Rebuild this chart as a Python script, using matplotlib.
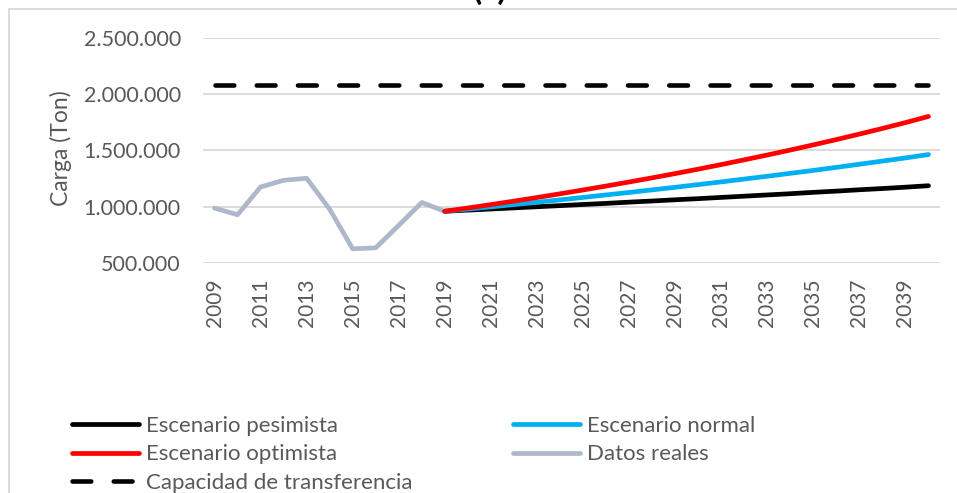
#!/usr/bin/env python3
import matplotlib
matplotlib.use("Agg")
import matplotlib.pyplot as plt
from matplotlib.patches import Rectangle
from matplotlib.ticker import FuncFormatter, MultipleLocator

# data
YEARS_REAL = [2009, 2010, 2011, 2012, 2013, 2014, 2015, 2016, 2017, 2018, 2019]
DATOS_REALES = [988000, 929000, 1176000, 1235000, 1253000, 978000, 626000, 635000,
                835000, 1038000, 959000]

YEARS_PROJ = list(range(2019, 2041))
PESIMISTA = [960000, 970000, 980000, 990000, 1000000, 1010000, 1020000, 1030000,
             1041000, 1051000, 1062000, 1072000, 1083000, 1094000, 1105000, 1116000,
             1128000, 1139000, 1151000, 1162000, 1174000, 1187000]
NORMAL = [960000, 979000, 999000, 1019000, 1040000, 1061000, 1083000, 1105000,
          1127000, 1150000, 1173000, 1197000, 1221000, 1246000, 1271000, 1297000,
          1323000, 1350000, 1378000, 1406000, 1434000, 1464000]
OPTIMISTA = [960000, 989000, 1019000, 1050000, 1082000, 1115000, 1149000, 1184000,
             1220000, 1257000, 1295000, 1334000, 1375000, 1417000, 1460000, 1504000,
             1550000, 1597000, 1646000, 1696000, 1748000, 1803000]

YEARS_CAP = [2009, 2040]
CAPACIDAD = [2080000, 2080000]

LABELS = ["Escenario pesimista", "Escenario normal", "Escenario optimista",
          "Datos reales", "Capacidad de transferencia"]

TEXT_COLOR = "#595959"
GRID_COLOR = "#D9D9D9"

plt.rcParams["font.family"] = ["Lato", "DejaVu Sans"]

W, H = 957, 493
fig = plt.figure(figsize=(W / 100, H / 100), dpi=100)
ax = fig.add_axes([203 / W, 1 - 263 / H, (940 - 203) / W, (263 - 38) / H])

lw = 3.4
l_real, = ax.plot(YEARS_REAL, DATOS_REALES, color="#ADB9CA", lw=lw,
                  solid_capstyle="round", solid_joinstyle="round")
l_pes, = ax.plot(YEARS_PROJ, PESIMISTA, color="black", lw=lw, solid_capstyle="round")
l_nor, = ax.plot(YEARS_PROJ, NORMAL, color="#00B0F0", lw=lw, solid_capstyle="round")
l_opt, = ax.plot(YEARS_PROJ, OPTIMISTA, color="#FF0000", lw=lw, solid_capstyle="round")
l_cap, = ax.plot(YEARS_CAP, CAPACIDAD, color="black", lw=3.3,
                 dashes=(4.1, 4.9), dash_capstyle="round")

ax.set_xlim(2008.5, 2040.5)
ax.set_ylim(500000, 2500000)
ax.yaxis.set_major_locator(MultipleLocator(500000))
ax.yaxis.set_major_formatter(FuncFormatter(lambda v, p: f"{v:,.0f}".replace(",", ".")))
ax.set_xticks(list(range(2009, 2041, 2)))
ax.tick_params(axis="x", labelrotation=90, length=0, pad=11, labelsize=15,
               labelcolor=TEXT_COLOR)
ax.tick_params(axis="y", length=0, pad=16, labelsize=15.5, labelcolor=TEXT_COLOR)
ax.grid(axis="y", color=GRID_COLOR, lw=1.3)
ax.set_axisbelow(True)
for s in ax.spines.values():
    s.set_visible(False)

fig.text(61 / W, 1 - 148 / H, "Carga (Ton)", rotation=90, ha="center", va="center",
         fontsize=16.5, color=TEXT_COLOR)

# title, cut off by the top edge
fig.text(490 / W, 1.0, "(c)", ha="center", va="baseline", fontsize=24,
         fontweight="bold", color="black")

# chart border (cut off on right and bottom)
fig.patches.append(Rectangle((9 / W, -0.2), 2.0, 1.2 - 9 / H, transform=fig.transFigure,
                             fill=False, edgecolor=GRID_COLOR, lw=1.3))

fig.legend([l_pes, l_opt, l_cap, l_nor, l_real],
           [LABELS[0], LABELS[2], LABELS[4], LABELS[1], LABELS[3]],
           ncol=2, loc="upper left", bbox_to_anchor=(72 / W, 1 - 416 / H),
           frameon=False, fontsize=16, handlelength=3.0, handletextpad=0.32,
           labelspacing=0.38, columnspacing=4.55, borderpad=0, borderaxespad=0,
           labelcolor=TEXT_COLOR)

fig.savefig("out.png", dpi=100)
